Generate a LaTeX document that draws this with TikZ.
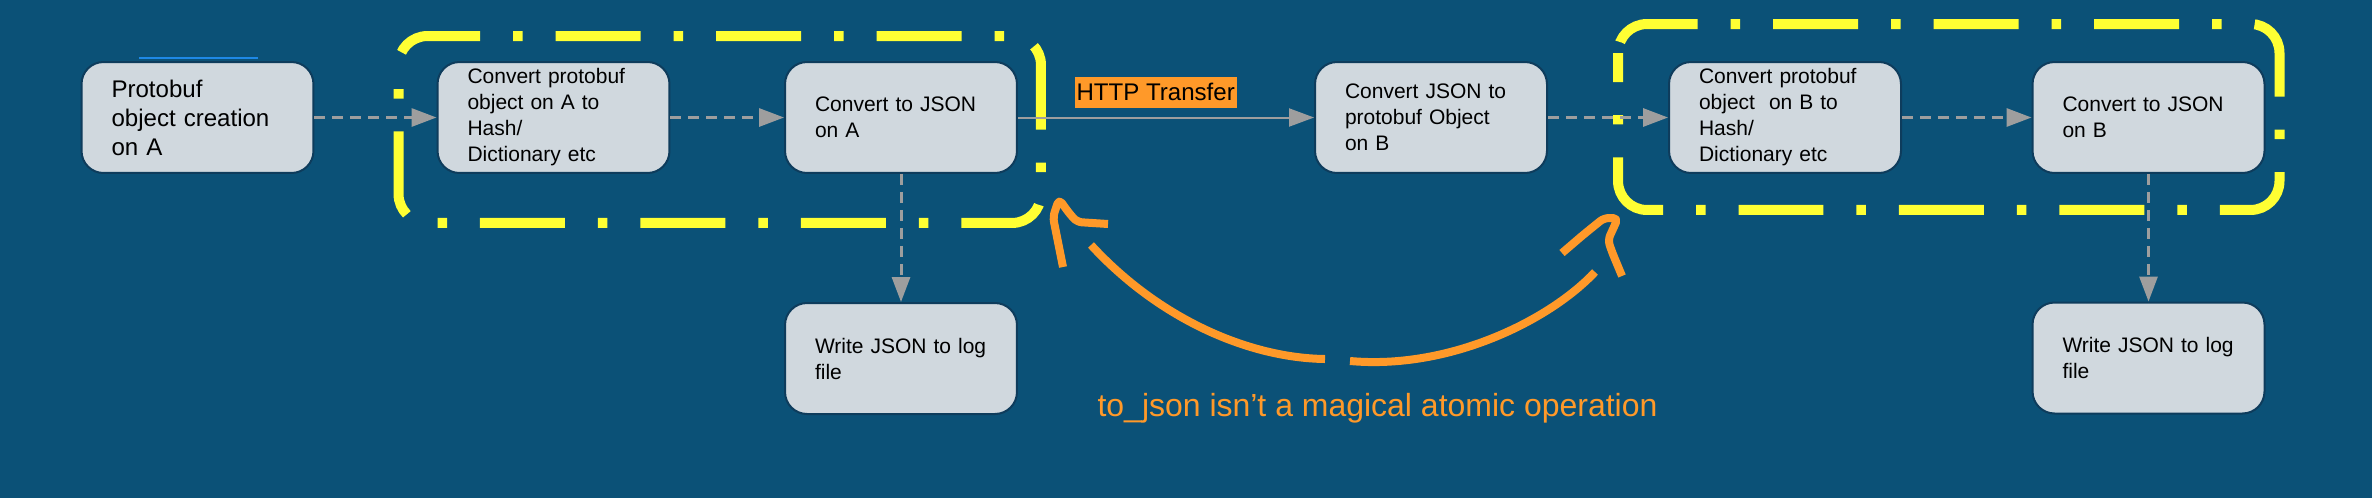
\documentclass[tikz,border=0pt]{standalone}
\usepackage{fontspec}
\setmainfont{Liberation Sans}
\usepackage{tikz}
\usetikzlibrary{arrows.meta,positioning,calc}
\definecolor{bgblue}{RGB}{11,81,119}
\definecolor{boxfill}{RGB}{208,216,222}
\definecolor{boxedge}{RGB}{14,60,92}
\definecolor{arrowgray}{RGB}{158,158,158}
\definecolor{hiyellow}{RGB}{255,255,51}
\definecolor{noteorange}{RGB}{255,153,41}
\definecolor{tickblue}{RGB}{30,136,229}
\newcommand{\procfont}{\fontsize{11.95}{14.8}\selectfont}
\newcommand{\startfont}{\fontsize{13.7}{16.5}\selectfont}
\newcommand{\transferfont}{\fontsize{13.7}{16}\selectfont}
\newcommand{\remarkfont}{\fontsize{18.2}{20}\selectfont}

\begin{document}
\begin{tikzpicture}[
        x=0.02cm, y=-0.02cm,
        procbox/.style={draw=boxedge, fill=boxfill, line width=0.04cm, rounded corners=0.44cm, minimum width=4.64cm, minimum height=2.22cm, text width=3.44cm, inner xsep=0.6cm, align=left, font=\procfont},
        startbox/.style={procbox, font=\startfont},
        group/.style={draw=hiyellow, line width=0.2cm, rounded corners=0.58cm, dash pattern=on 1.7cm off 0.66cm on 0.19cm off 0.66cm},
        flow/.style={draw=arrowgray, line width=0.06cm, dash pattern=on 0.22cm off 0.14cm, -{Triangle[length=0.5cm,width=0.36cm]}},
        transfer/.style={draw=arrowgray, line width=0.04cm, -{Triangle[length=0.5cm,width=0.36cm]}},
        annot/.style={draw=noteorange, line width=0.16cm, line join=round}
    ]
        % Background
        \fill[bgblue] (0,0) rectangle (2372,498);
        \draw[tickblue, line width=0.03cm] (139,58) -- (258,58);

        % Nodes
        \node[startbox] (objA) at (197.5,117.5) {Protobuf\\object creation\\on A};
        \node[procbox] (hashA) at (553.5,117.5) {Convert protobuf\\object on A to\\Hash/\\Dictionary etc};
        \node[procbox] (jsonA) at (901,117.5) {Convert to JSON\\on A};
        \node[procbox] (logA) at (901,358.5) {Write JSON to log\\file};

        \node[procbox] (protoB) at (1431,117.5) {Convert JSON to\\protobuf Object\\on B};
        \node[procbox] (hashB) at (1785,117.5) {Convert protobuf\\object\ \ on B to\\Hash/\\Dictionary etc};
        \node[procbox] (jsonB) at (2148.5,117.5) {Convert to JSON\\on B};
        \node[procbox] (logB) at (2148.5,358) {Write JSON to log\\file};

        % Groups
        \draw[group, dash phase=1.88cm] ($(hashA.north west)+(-38,-25)$) rectangle ($(jsonA.south east)+(23,49)$);
        \draw[group, dash phase=1.12cm] ($(hashB.north west)+(-50,-37)$) rectangle ($(jsonB.south east)+(14,36)$);

        % Connectors
        \draw[flow] (objA) -- (hashA);
        \draw[flow] (hashA) -- (jsonA);
        \draw[flow] (jsonA) -- (logA);
        \draw[transfer] (jsonA) -- node[pos=0.465, above=0.174cm, fill=noteorange, text=black, inner xsep=1pt, inner ysep=0pt, minimum height=0.62cm, font=\transferfont] (http) {HTTP Transfer} (protoB);
        \draw[flow] (protoB) -- (hashB);
        \draw[flow] (hashB) -- (jsonB);
        \draw[flow] (jsonB) -- (logB);

        % Remark
        \node[anchor=base, text=noteorange, font=\remarkfont] (remark) at (1377.5,416) {to\_json isn’t a magical atomic operation};
        \draw[annot] (1325,359) .. controls (1250,358) and (1160,320) .. (1091,245);
        \draw[annot, rounded corners=0.1cm] (1063,267) -- (1053,217) -- (1059,199) -- (1069,213) -- (1077,222) -- (1108,224);
        \draw[annot] (1350,361) .. controls (1450,370) and (1550,320) .. (1595,272);
        \draw[annot, rounded corners=0.1cm] (1562,253) -- (1583,235) -- (1604,218) -- (1618,218) -- (1608,240) -- (1612,252) -- (1622,276);
    \end{tikzpicture}
\end{document}
